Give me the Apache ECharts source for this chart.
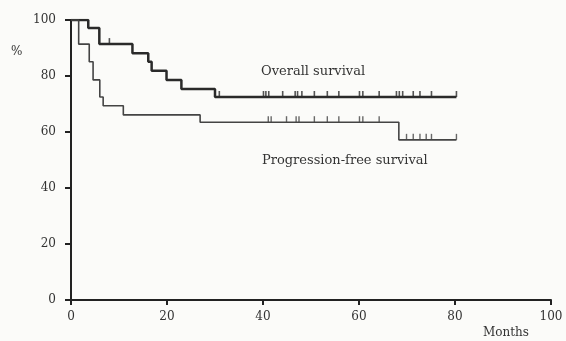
<!DOCTYPE html>
<html><head><meta charset="utf-8">
<script src="https://cdn.jsdelivr.net/npm/echarts@6/dist/echarts.min.js"></script>
<style>html,body{margin:0;padding:0;background:#fbfbf9;}#c{width:566px;height:341px;}</style>
</head><body><div id="c"></div>
<script>
// Overall survival: event times (months) and survival (%)
var osTimes = [0, 3.6, 5.9, 12.8, 16.1, 16.8, 19.9, 23.0, 30.0, 80.3];
var osVals  = [100, 97.1, 91.4, 88.1, 85.1, 81.9, 78.6, 75.4, 72.5, 72.5];
// Progression-free survival
var pfsTimes = [0, 1.6, 3.8, 4.6, 6.0, 6.7, 10.9, 26.9, 68.3, 80.3];
var pfsVals  = [100, 91.4, 85.1, 78.6, 72.5, 69.4, 66.1, 63.5, 57.2, 57.2];
// Censoring times (months)
var osCensor  = [8.0, 30.9, 40.1, 40.6, 41.2, 44.1, 46.7, 47.2, 48.1, 50.7, 53.4, 55.8, 60.1, 60.8, 64.2, 67.8, 68.4, 69.1, 71.3, 72.7, 75.1, 80.3];
var pfsCensor = [41.1, 41.7, 44.9, 46.9, 47.5, 50.7, 53.4, 55.8, 60.1, 60.8, 64.2, 69.9, 71.3, 72.7, 74.0, 75.1, 80.3];
var tickLabels = [0, 20, 40, 60, 80, 100];

function pairs(t, v){ return t.map(function(x,i){ return [x, v[i]]; }); }
function survAt(t, v, x){ var s = v[0]; for (var i=0;i<t.length;i++){ if (t[i] <= x) s = v[i]; } return s; }
function censorPts(c, t, v){ return c.map(function(x){ return [x, survAt(t, v, x)]; }); }

var font = 'DejaVu Serif';
var txt = '#333';
var chart = echarts.init(document.getElementById('c'), null, {renderer:'canvas'});
chart.setOption({
  backgroundColor: '#fbfbf9',
  animation: false,
  grid: {left: 71, right: 15, top: 20, bottom: 41},
  xAxis: {
    type: 'value', min: 0, max: 100, interval: 20,
    axisLine: {lineStyle: {color: '#222', width: 2}},
    axisTick: {length: 5, lineStyle: {color: '#222', width: 2}},
    splitLine: {show: false},
    axisLabel: {color: txt, fontFamily: font, fontSize: 12, margin: 11,
      formatter: function(v){ return tickLabels.indexOf(v) >= 0 ? String(v) : ''; }}
  },
  yAxis: {
    type: 'value', min: 0, max: 100, interval: 20,
    axisLine: {show: true, lineStyle: {color: '#222', width: 2}},
    axisTick: {show: true, length: 6, lineStyle: {color: '#222', width: 2}},
    splitLine: {show: false},
    axisLabel: {color: txt, fontFamily: font, fontSize: 12, margin: 15}
  },
  graphic: [
    {type: 'text', left: 11, top: 46, style: {text: '%', fill: txt, font: '12px "DejaVu Serif"'}},
    {type: 'text', left: 483, top: 327, style: {text: 'Months', fill: txt, font: '12px "DejaVu Serif"'}},
    {type: 'text', left: 261, top: 65, style: {text: 'Overall survival', fill: txt, font: '13px "DejaVu Serif"'}},
    {type: 'text', left: 262, top: 154, style: {text: 'Progression-free survival', fill: txt, font: '13px "DejaVu Serif"'}}
  ],
  series: [
    {type: 'line', step: 'end', data: pairs(osTimes, osVals), symbol: 'none',
      lineStyle: {color: '#2a2a2a', width: 2.5}},
    {type: 'line', step: 'end', data: pairs(pfsTimes, pfsVals), symbol: 'none',
      lineStyle: {color: '#444', width: 1.6}},
    {type: 'scatter', data: censorPts(osCensor, osTimes, osVals), symbol: 'rect',
      symbolSize: [1.6, 6], symbolOffset: [0, -3], itemStyle: {color: '#2a2a2a'}},
    {type: 'scatter', data: censorPts(pfsCensor, pfsTimes, pfsVals), symbol: 'rect',
      symbolSize: [1.4, 6], symbolOffset: [0, -3], itemStyle: {color: '#444'}}
  ]
});
</script></body></html>
